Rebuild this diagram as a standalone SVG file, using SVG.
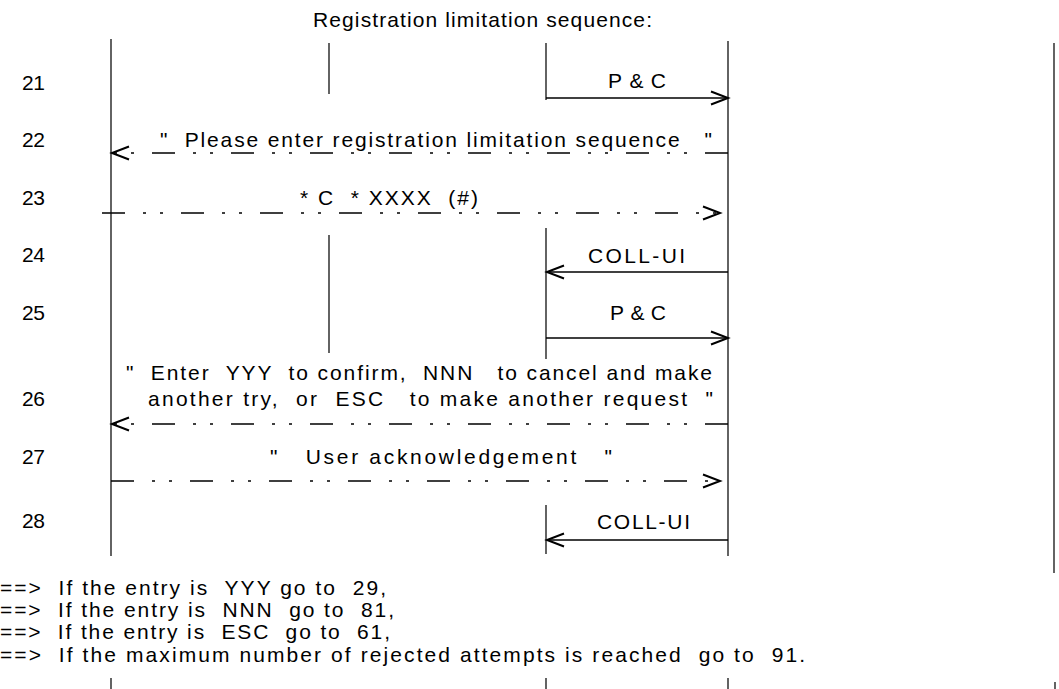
<svg xmlns="http://www.w3.org/2000/svg" width="1059" height="689" viewBox="0 0 1059 689">
<style>
.t{font-family:"Liberation Sans",Arial,sans-serif;font-size:21px;fill:#000;white-space:pre;}
.life{stroke:#222;stroke-width:1.4;fill:none;}
.msg{stroke:#000;stroke-width:1.3;fill:none;}
.dash{stroke:#000;stroke-width:1.3;fill:none;stroke-dasharray:23 18 3 14 3 18;}
</style>
<defs>
<marker id="open" markerUnits="userSpaceOnUse" markerWidth="22" markerHeight="18" refX="18" refY="8" orient="auto">
<path d="M1,1.5 L18,8 L1,14.5" fill="none" stroke="#000" stroke-width="2"/>
</marker>
</defs>
<rect width="1059" height="689" fill="#fff"/>
<text class="t" x="313" y="27" textLength="339">Registration limitation sequence:</text>

<g id="lifeline-a"><line class="life" x1="111" y1="39" x2="111" y2="556"/><line class="life" x1="111" y1="678" x2="111" y2="689"/></g>
<g id="lifeline-b"><line class="life" x1="329" y1="43" x2="329" y2="94"/><line class="life" x1="329" y1="235" x2="329" y2="353"/></g>
<g id="lifeline-c"><line class="life" x1="546" y1="43" x2="546" y2="100"/><line class="life" x1="546" y1="228" x2="546" y2="359"/><line class="life" x1="546" y1="505" x2="546" y2="554"/><line class="life" x1="546" y1="678" x2="546" y2="689"/></g>
<g id="lifeline-d"><line class="life" x1="728" y1="41" x2="728" y2="556"/><line class="life" x1="728" y1="678" x2="728" y2="689"/></g>
<g id="lifeline-e"><line class="life" x1="1054" y1="43" x2="1054" y2="573"/><line class="life" x1="1055" y1="682" x2="1055" y2="689"/></g>

<g id="row-labels">
<text class="t" x="22" y="90" textLength="23">21</text>
<text class="t" x="22" y="147" textLength="23">22</text>
<text class="t" x="22" y="205" textLength="23">23</text>
<text class="t" x="22" y="262" textLength="23">24</text>
<text class="t" x="22" y="320" textLength="23">25</text>
<text class="t" x="22" y="406" textLength="23">26</text>
<text class="t" x="22" y="464" textLength="23">27</text>
<text class="t" x="22" y="528" textLength="23">28</text>
</g>

<g id="connectors">
<line class="msg" x1="546" y1="98" x2="728" y2="98" marker-end="url(#open)"/>
<path class="dash" d="M728,153 L112,153" marker-end="url(#open)"/>
<path class="dash" d="M102,213 L720,213" marker-end="url(#open)"/>
<line class="msg" x1="728" y1="272" x2="547" y2="272" marker-end="url(#open)"/>
<line class="msg" x1="546" y1="338" x2="728" y2="338" marker-end="url(#open)"/>
<path class="dash" d="M728,424 L112,424" marker-end="url(#open)"/>
<path class="dash" d="M111,481 L720,481" marker-end="url(#open)"/>
<line class="msg" x1="728" y1="540" x2="547" y2="540" marker-end="url(#open)"/>
</g>

<g id="connector-labels">
<text class="t" x="608" y="88" textLength="58">P&amp;C</text>
<text class="t" x="160" y="147" textLength="552">"  Please enter registration limitation sequence   "</text>
<text class="t" x="300" y="205" textLength="178">* C  * XXXX  (#)</text>
<text class="t" x="588" y="263" textLength="97">COLL-UI</text>
<text class="t" x="610" y="320" textLength="56">P&amp;C</text>
<text class="t" x="126" y="380" textLength="586">"  Enter  YYY  to confirm,  NNN   to cancel and make</text>
<text class="t" x="148" y="406" textLength="565">another try,  or  ESC   to make another request  "</text>
<text class="t" x="270" y="464" textLength="342">"   User acknowledgement   "</text>
<text class="t" x="597" y="529" textLength="93">COLL-UI</text>
</g>

<g id="notes">
<text class="t" x="0" y="595" textLength="386">==>  If the entry is  YYY go to  29,</text>
<text class="t" x="0" y="617" textLength="394">==>  If the entry is  NNN  go to  81,</text>
<text class="t" x="0" y="639" textLength="390">==>  If the entry is  ESC  go to  61,</text>
<text class="t" x="0" y="662" textLength="805">==>  If the maximum number of rejected attempts is reached  go to  91.</text>
</g>
</svg>
